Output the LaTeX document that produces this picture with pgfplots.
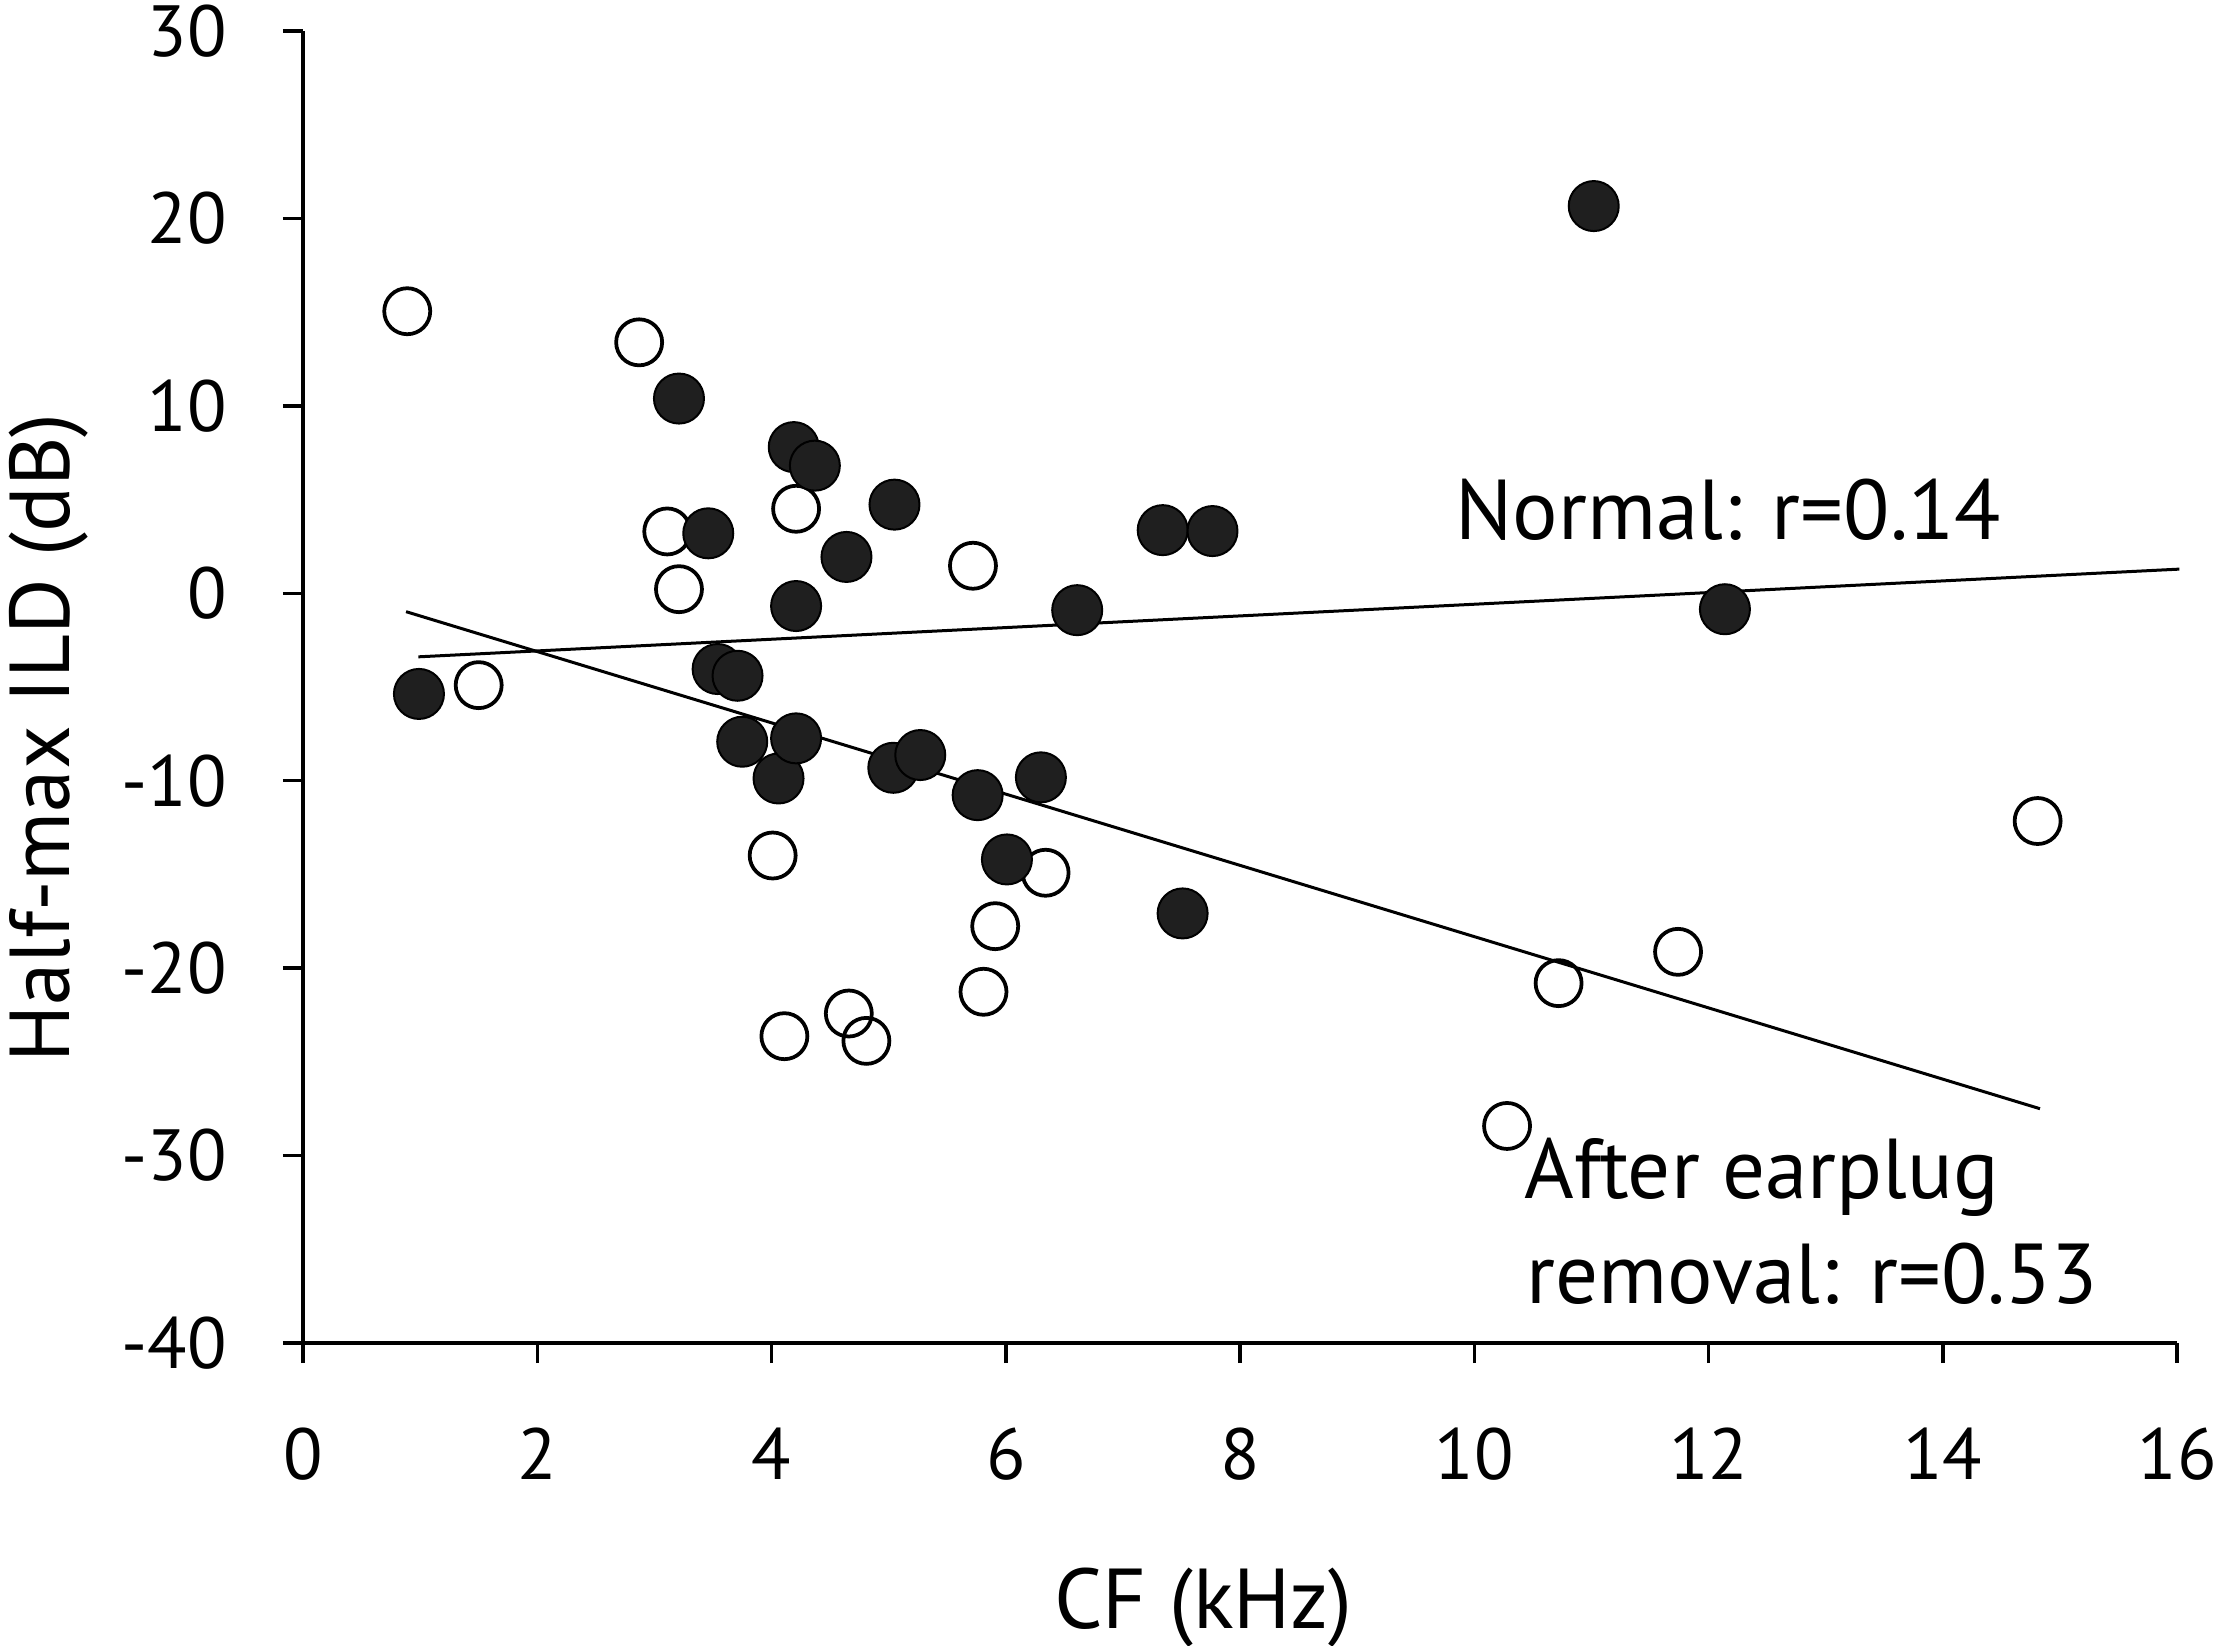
\documentclass[border=0pt]{standalone}
\usepackage{pgfplots}
\pgfplotsset{compat=1.18}
\usepackage{fontspec}
\setmainfont{PT Sans}
\begin{document}
\begin{tikzpicture}
\path[use as bounding box] (-60.6pt,-60.4pt) rectangle (382.8pt,268.6pt);
\begin{axis}[
  scale only axis,
  width=374.8pt, height=262.4pt,
  xmin=0, xmax=16, ymin=-40, ymax=30,
  axis x line*=bottom, axis y line*=left,
  axis line style={line width=0.7pt},
  xtick={0,2,...,16}, ytick={-40,-30,...,30},
  tick align=outside, major tick length=4pt,
  tick style={line width=0.7pt, black},
  /pgf/number format/assume math mode=true,
  ticklabel style={font=\fontsize{14.5}{17}\selectfont},
  x tick label style={inner sep=0pt, anchor=north, yshift=-12.8pt},
  y tick label style={inner sep=0pt, anchor=east, xshift=-11pt},
  xlabel={CF (kHz)},
  ylabel={Half-max ILD (dB)},
  label style={font=\fontsize{17}{20}\selectfont, inner sep=0pt},
  x label style={at={(axis description cs:0.4805,0)}, anchor=base, yshift=-57pt},
  y label style={at={(axis description cs:0,0.461)}, anchor=base, yshift=46.6pt},
  clip=false,
]
% After earplug removal (open)
\addplot[only marks, mark=o, mark size=4.6pt, mark options={line width=0.75pt, black}] coordinates {
(0.89,15.05) (1.50,-4.9) (2.87,13.39) (3.11,3.3) (3.21,0.22) (4.21,4.51)
(4.01,-13.99) (4.11,-23.63) (4.66,-22.42) (4.81,-23.88) (5.72,1.47)
(5.91,-17.76) (5.81,-21.26) (6.34,-14.91) (10.28,-28.42) (10.72,-20.8)
(11.74,-19.13) (14.81,-12.15)
};
% Normal (filled)
\addplot[only marks, mark=*, mark size=5pt, mark options={draw=none, fill=black!88}] coordinates {
(0.99,-5.37) (3.21,10.39) (3.46,3.2) (3.54,-4.04) (3.71,-4.4) (3.75,-7.92)
(4.06,-9.88) (4.19,7.8) (4.37,6.81) (4.21,-0.68) (4.21,-7.74) (4.64,1.94)
(5.05,4.73) (5.04,-9.31) (5.27,-8.63) (5.76,-10.77) (6.01,-14.2) (6.30,-9.82)
(6.61,-0.9) (7.34,3.37) (7.765,3.32) (7.51,-17.08) (11.02,20.66) (12.14,-0.85)
};
% regression lines
\addplot[black, line width=0.6pt] coordinates {(0.985,-3.39) (16.02,1.29)};
\addplot[black, line width=0.6pt] coordinates {(0.88,-0.98) (14.83,-27.5)};
\node[anchor=base west, inner sep=0pt, font=\fontsize{17}{20}\selectfont] at (axis cs:9.83,2.89) {Normal: r=0.14};
\node[anchor=base west, inner sep=0pt, font=\fontsize{17}{20}\selectfont] at (axis cs:10.42,-32.27) {After earplug};
\node[anchor=base west, inner sep=0pt, font=\fontsize{17}{20}\selectfont] at (axis cs:10.44,-37.88) {removal: r=0.53};
\end{axis}
\end{tikzpicture}
\end{document}
